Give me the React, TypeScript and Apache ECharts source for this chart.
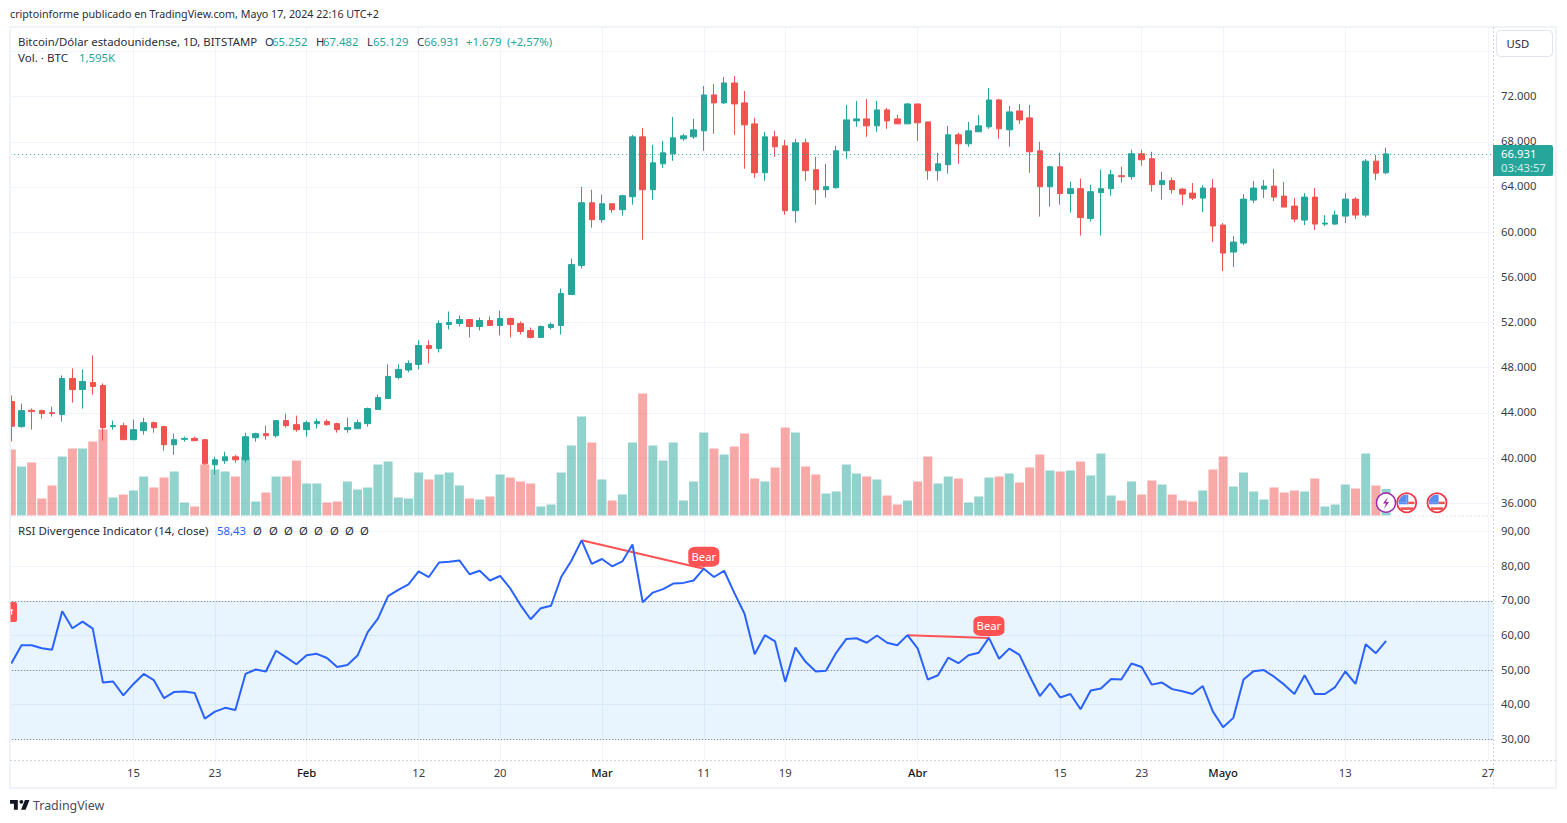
import React, { useEffect, useRef } from "react";
import * as echarts from "echarts";

const opens = [45008,42785,44237,44207,44030,43852,47052,46074,46696,46430,
42785,42874,41630,42430,43141,42785,41185,41659,41748,41630,
39407,39763,40119,39852,41807,42163,41985,43319,42963,42519,
43052,43230,43052,42519,42607,43052,44296,45274,47141,47800,
48295,49973,49708,51829,51917,52270,51652,52182,51740,52359,
51917,51298,50680,51563,51740,54479,57041,62607,61105,62519,
61989,63137,68438,63756,66053,66936,68262,68438,68968,72149,
71442,73209,71442,69587,65258,68438,67643,61900,67911,65529,
63764,63941,67205,69852,70029,69411,70823,70029,69588,71352,
69764,65441,65970,68617,67823,68882,69323,71705,69058,70735,
70117,67205,64029,65794,63412,63853,61206,63500,63853,65000,
64912,66941,66500,64206,64559,63812,63458,63016,63901,60628,
58240,59036,62839,63812,64077,63193,62309,61071,63105,60717,
60717,61424,62928,61513,66289,65252];
const closes = [42815,44207,44119,43941,43941,47052,46074,46785,46341,42696,
42874,41630,42519,43141,42696,41185,41630,41748,41541,39496,
39852,40119,39852,41896,42163,41985,43319,42874,42519,43141,
43230,42963,42519,42696,43141,44385,45363,47230,47852,48383,
49973,49708,51917,52005,52270,51652,52182,51740,52359,51829,
51210,50680,51652,51829,54567,57130,62607,61105,62519,61989,
63226,68438,63756,66141,67025,68350,68527,69057,72149,71442,
73209,71354,69499,65258,68438,67555,61900,67908,65441,63764,
64029,67205,69941,70029,69411,70823,69852,69588,71352,69676,
65441,66058,68617,67823,68970,69411,71705,69147,70646,69941,
67117,64029,65794,63412,63853,61294,63588,63853,65088,64912,
66941,66412,64206,64559,63764,63370,63016,63901,60540,58152,
59125,62928,63901,64077,63105,62220,61159,63105,60717,60805,
61513,62928,61513,66289,65227,66931];
const lows = [41482,42696,42519,43496,43674,43230,44919,44385,45630,41541,
42519,41630,41630,42074,42252,40652,40296,41452,41541,39407,
38519,39496,39585,39600,41452,41630,41807,42696,42341,41896,
42607,42874,42252,42252,42607,42785,44296,45274,46963,47600,
47853,48383,49355,51387,51652,50680,51298,51740,50857,50680,
50945,50592,50680,51387,50945,54479,56776,60398,60840,61724,
61459,62431,59338,62872,65699,66318,68085,68262,67201,68703,
71354,68615,65611,64816,64551,66671,61547,60840,64559,62441,
63059,63853,66500,69323,68441,68882,69147,69588,69588,68088,
64647,64559,65176,66058,67558,68882,69147,68264,67558,69588,
65264,61382,62265,62441,61735,59706,60941,59706,63235,64382,
64647,65882,63588,62882,63412,62397,62839,61778,59125,56560,
56914,58860,62574,63016,62751,62220,60894,60628,60186,60540,
60628,60805,61159,61336,64608,65129];
const highs = [45541,44830,44385,44296,44563,47319,47941,47852,49096,46608,
43319,43141,43408,43585,43230,42874,42163,41896,41896,41689,
40119,40563,40296,42252,42252,42874,43319,43941,43763,43319,
43496,43408,43141,43585,43408,44474,45630,48296,48296,48648,
50415,50415,52182,52977,52624,52270,52447,52535,53065,52447,
52094,51563,51740,52005,55009,57660,64021,63756,63314,62519,
63314,68615,69233,67732,68085,70205,68703,70029,72944,73121,
73739,73827,72502,70117,68880,68968,68173,68262,68264,66676,
66058,67647,71264,71617,71794,71617,70999,70382,71441,71352,
69764,67029,69411,68794,69764,70382,72764,71794,71176,71352,
71264,68000,65882,67029,64470,64735,64206,65529,65529,65794,
67294,67294,67117,65353,64824,63901,64343,64166,64697,60805,
59656,63370,64520,64608,65581,64431,63016,63458,63901,61513,
61867,63458,63105,66465,66819,67482];
const volumes = [3960,2940,3180,1020,1800,3540,4020,4020,4440,5160,
1080,1260,1500,2340,1680,2280,2640,780,540,3060,
2760,2640,2340,3540,840,1380,2340,2340,3300,1920,
1920,780,840,2040,1560,1680,3060,3240,1080,1020,
2580,2160,2460,2580,1800,1020,960,1140,2460,2280,
2040,1920,540,660,2580,4200,5940,4380,2160,900,
1260,4380,7320,4200,3300,4380,900,2040,4980,4020,
3660,4140,4920,2220,2040,2880,5280,4980,2940,2460,
1320,1440,3060,2520,2340,2160,1200,660,900,2040,
3540,1920,2340,2220,780,1140,2280,2340,2520,1980,
2880,3660,2700,2640,2700,3240,2400,3720,1200,900,
2040,1260,2100,1860,1260,900,840,1500,2760,3540,
1740,2580,1440,960,1680,1380,1500,1440,2220,540,
660,1860,1620,3720,1800,1595];
const rsi = [51.9,57.2,57.2,56.3,55.9,67,62.1,64,62,46.4,
46.7,42.7,46,48.9,47.1,41.9,43.7,43.8,43.4,36,
38,39.1,38.5,48.9,50.2,49.6,55.6,53.7,51.7,54.3,
54.7,53.5,50.9,51.5,54.2,61,64.9,71.4,73.2,74.8,
78.5,76.9,81.1,81.3,81.7,77.7,78.7,75.9,77.2,73.6,
68.8,64.7,67.9,68.6,76.9,81.6,87.5,80.7,82.1,80,
81.4,86.3,69.6,72.4,73.4,75,75.2,75.9,79.3,76.9,
78.7,72.3,66.3,54.6,60.1,58.3,46.6,56.5,52.4,49.6,
49.8,55,59,59.2,57.9,60,57.9,57.2,60.1,56.3,
47.3,48.5,53.6,52,54.3,55,59.3,53.3,56.2,54.4,
48.3,42.5,46.2,42.1,43.1,38.7,44.1,44.7,47.4,47.3,
51.9,50.9,45.8,46.4,44.5,43.9,43.1,45.4,38,33.5,
36.2,47.3,49.7,50,48.1,45.8,43.1,48.5,43.1,43.1,
45.1,49.6,46,57.5,54.9,58.43];

const firstDay = "2024-01-03";
const barCount = 146;
const tickDates = ["2024-01-15","2024-01-23","2024-02-01","2024-02-12","2024-02-20","2024-03-01","2024-03-11","2024-03-19","2024-04-01","2024-04-15","2024-04-23","2024-05-01","2024-05-13","2024-05-27"];
const tickTexts = ["15","23","Feb","12","20","Mar","11","19","Abr","15","23","Mayo","13","27"];
const monthTicks = ["Feb","Mar","Abr","Mayo"];
const priceTicks = [36000,40000,44000,48000,52000,56000,60000,64000,68000,72000];
const priceGrid = [...priceTicks, 76000];
const rsiTicks = [30,40,50,60,70,80,90];
const rsiBands = [70,50,30];
const bearLines = [[[56,87.5],[68,79.3]],[[88,60.1],[96,59.3]]];
const bearMarks = [[68,79.3],[96,59.3]];

const categories: string[] = [];
{
  const d = new Date(firstDay + "T00:00:00Z");
  for (let i = 0; i < barCount; i++) {
    categories.push(d.toISOString().slice(0, 10));
    d.setUTCDate(d.getUTCDate() + 1);
  }
}

const UP = "#26a69a", DOWN = "#ef5350", BLUE = "#2962ff", RED = "#ff5252", INK = "#2a2e39", GRID = "#f0f3fa";
const FONT = '"Noto Sans", sans-serif';
const FS = 11.3;

function txt(text: string, x: number, y: number, fill = INK, size = FS) {
  return { type: "text", x, y, z: 110, silent: true, style: { text, fill, font: `${size}px ${FONT}`, textVerticalAlign: "middle" } };
}
function flag(cx: number, cy: number) {
  return [
    { type: "circle", z: 105, shape: { cx, cy, r: 9.5 }, style: { fill: "#fff", stroke: "#f23645", lineWidth: 1.8 } },
    { type: "sector", z: 106, shape: { cx, cy, r: 8.2, r0: 0, startAngle: Math.PI, endAngle: Math.PI * 1.5 }, style: { fill: "#5b8def" } },
    { type: "rect", z: 106, shape: { x: cx, y: cy - 8, width: 1.6, height: 9.6 }, style: { fill: "#5b8def" } },
    { type: "rect", z: 106, shape: { x: cx - 8, y: cy, width: 8, height: 1.6 }, style: { fill: "#5b8def" } },
    { type: "rect", z: 106, shape: { x: cx + 1.6, y: cy - 1, width: 6.2, height: 2.4 }, style: { fill: "#ef5350" } },
    { type: "rect", z: 106, shape: { x: cx - 6.3, y: cy + 4.6, width: 12.6, height: 2.6 }, style: { fill: "#ef5350" } },
  ];
}

echarts.graphic.registerShape("tvlogo", echarts.graphic.extendPath(
  "M14 6H2v6h6v9h6V6Zm12 15h-7l6-15h7l-6 15ZM22.5 9a3 3 0 1 1-6 0 3 3 0 0 1 6 0Z",
  {}
) as any);

export default function App() {
  const ref = useRef<HTMLDivElement>(null);
  useEffect(() => {
    const chart = echarts.init(ref.current!, undefined, { renderer: "svg" });
    const ticks = (i: number) => tickDates.includes(categories[i]);
    const labelOf = (v: string) => tickTexts[tickDates.indexOf(v)];
    const tick = { a: { padding: [0, 0, 2, 0], color: "#3a3d47", fontFamily: FONT, fontSize: FS } };
    const axisX = (gridIndex: number, withLabels: boolean) => ({
      type: "category", gridIndex, data: categories,
      axisLine: { show: false },
      axisTick: { show: false, alignWithLabel: true, interval: (i: number) => ticks(i) },
      splitLine: { show: true, alignWithLabel: true, interval: (i: number) => ticks(i), lineStyle: { color: GRID, width: 1 } },
      axisLabel: withLabels ? {
        show: true, margin: 7, interval: (i: number) => ticks(i),
        fontFamily: FONT, fontSize: FS, color: "#3a3d47",
        formatter: (v: string) => {
          const t = labelOf(v);
          return monthTicks.includes(t) ? `{m|${t}}` : t;
        },
        rich: { m: { color: "#131722", fontFamily: FONT, fontSize: FS, fontWeight: 500 } },
      } : { show: false },
    });
    chart.setOption({
      animation: false,
      backgroundColor: "#fff",
      grid: [
        { left: 6.2, width: 1486.8, top: 28, height: 487.5 },
        { left: 6.2, width: 1486.8, top: 517, height: 243.3 },
      ],
      xAxis: [axisX(0, false), axisX(1, true)],
      yAxis: [
        {
          type: "value", gridIndex: 0, position: "right", min: 34920, max: 78074, scale: true,
          axisLine: { show: false },
          axisTick: { show: false, customValues: priceGrid },
          splitLine: { show: true, lineStyle: { color: GRID, width: 1 } },
          axisLabel: {
            customValues: priceTicks, margin: 8, rich: tick,
            formatter: (v: number) => `{a|${v / 1000}.000}`,
          },
        },
        { type: "value", gridIndex: 0, min: 0, max: 29250, show: false, splitLine: { show: false } },
        {
          type: "value", gridIndex: 1, position: "right", min: 23.94, max: 94.24, scale: true,
          axisLine: { show: false },
          axisTick: { show: false, customValues: rsiTicks },
          splitLine: { show: true, lineStyle: { color: GRID, width: 1 } },
          axisLabel: {
            customValues: rsiTicks, margin: 8, rich: tick,
            formatter: (v: number) => `{a|${v},00}`,
          },
        },
      ],
      series: [
        {
          name: "Vol", type: "bar", xAxisIndex: 0, yAxisIndex: 1, barWidth: 9, z: 2,
          data: volumes.map((v, i) => ({
            value: v,
            itemStyle: { color: closes[i] >= opens[i] ? "rgba(38,166,154,0.5)" : "rgba(239,83,80,0.5)" },
          })),
        },
        {
          name: "BTC", type: "candlestick", xAxisIndex: 0, yAxisIndex: 0, barWidth: 6, z: 3,
          itemStyle: { color: UP, color0: DOWN, borderColor: UP, borderColor0: DOWN, borderWidth: 1 },
          data: opens.map((o, i) => [o, closes[i], lows[i], highs[i]]),
          markLine: {
            silent: true, symbol: ["none", "none"], label: { show: false }, animation: false,
            lineStyle: { color: UP, type: [1, 3], width: 1 },
            data: [{ yAxis: closes[closes.length - 1] }],
          },
        },
        {
          name: "RSI", type: "line", xAxisIndex: 1, yAxisIndex: 2, data: rsi, showSymbol: false, symbol: "none", z: 5,
          lineStyle: { color: BLUE, width: 2 },
          markArea: {
            silent: true, itemStyle: { color: "rgba(33,150,243,0.1)" },
            data: [[{ yAxis: rsiBands[0] }, { yAxis: rsiBands[2] }]],
          },
          markLine: {
            silent: true, symbol: ["none", "none"], label: { show: false },
            data: [
              ...rsiBands.map((y) => ({ yAxis: y, lineStyle: { color: "#787b86", type: [1, 2], width: 1 } })),
              ...bearLines.map((l) => [
                { coord: l[0], lineStyle: { color: RED, type: "solid", width: 2 } },
                { coord: l[1] },
              ]),
            ],
          },
          markPoint: {
            silent: true,
            data: bearMarks.flatMap((c) => [
              {
                coord: c, symbol: "triangle", symbolRotate: 180, symbolSize: [7, 4], symbolOffset: [0, -3],
                itemStyle: { color: RED }, label: { show: false },
              },
              {
                coord: c, value: "Bear", symbol: "roundRect", symbolSize: [31, 20], symbolOffset: [0, -12],
                itemStyle: { color: RED },
                label: { show: true, formatter: "Bear", position: "inside", color: "#fff", fontFamily: FONT, fontSize: FS },
              },
            ]),
          },
        },
      ],
      graphic: {
        z: 100,
        elements: [
          // page margins around the chart frame
          { type: "rect", z: 100, silent: true, shape: { x: 0, y: 0, width: 9.5, height: 823 }, style: { fill: "#fff" } },
          { type: "rect", z: 101, silent: true, shape: { x: 10, y: 27, width: 1546, height: 761 }, style: { fill: "none", stroke: "#f0f3fa", lineWidth: 2 } },
          { type: "line", z: 101, silent: true, shape: { x1: 1493.5, y1: 27, x2: 1493.5, y2: 788 }, style: { stroke: "#d1d4dc", lineWidth: 1, lineDash: [2, 2] } },
          { type: "line", z: 101, silent: true, shape: { x1: 10, y1: 516, x2: 1493, y2: 516 }, style: { stroke: "#dfe2ea", lineWidth: 1, lineDash: [2, 2] } },
          { type: "line", z: 101, silent: true, shape: { x1: 10, y1: 760.5, x2: 1556, y2: 760.5 }, style: { stroke: "#d1d4dc", lineWidth: 1, lineDash: [2, 2] } },
          // clipped Bear tag at the left edge
          { type: "rect", z: 102, silent: true, shape: { x: 10.5, y: 602, width: 6.5, height: 20, r: [0, 2, 2, 0] }, style: { fill: RED } },
          { type: "rect", z: 103, silent: true, shape: { x: 10.5, y: 609.5, width: 2.5, height: 1.2 }, style: { fill: "#fff" } },
          { type: "rect", z: 103, silent: true, shape: { x: 11, y: 609.5, width: 1.2, height: 5 }, style: { fill: "#fff" } },
          // header
          txt("criptoinforme publicado en TradingView.com, Mayo 17, 2024 22:16 UTC+2", 10, 14, INK, 10.7),
          txt("Bitcoin/Dólar estadounidense, 1D, BITSTAMP", 18, 41.3, INK, 11.4),
          txt("O", 265, 41.3), txt("65.252", 272, 41.3, UP),
          txt("H", 316, 41.3), txt("67.482", 323, 41.3, UP),
          txt("L", 367, 41.3), txt("65.129", 373, 41.3, UP),
          txt("C", 417, 41.3), txt("66.931", 424, 41.3, UP),
          txt("+1.679", 466, 41.3, UP), txt("(+2,57%)", 507, 41.3, UP),
          txt("Vol. · BTC", 18, 57.8, INK, 11.6), txt("1,595K", 79, 57.8, UP, 11.4),
          // RSI legend
          txt("RSI Divergence Indicator (14, close)", 18, 530.3, INK, 11.55),
          txt("58,43", 217, 530.3, BLUE),
          ...[253, 269, 284, 299, 314, 330, 345, 360].map((x) => txt("Ø", x, 530.3)),
          // price tag and currency button
          { type: "rect", z: 105, silent: true, shape: { x: 1493, y: 145, width: 60, height: 31, r: [0, 2, 2, 0] }, style: { fill: UP } },
          txt("66.931", 1501, 153.2, "#ffffff"),
          txt("03:43:57", 1501, 167, "rgba(255,255,255,0.8)"),
          { type: "rect", z: 105, silent: true, shape: { x: 1496.5, y: 30.5, width: 56, height: 26, r: 4 }, style: { fill: "#fff", stroke: "#e0e3eb", lineWidth: 1 } },
          txt("USD", 1506.5, 43.5),
          // events
          { type: "circle", z: 105, silent: true, shape: { cx: 1386, cy: 502.7, r: 9.5 }, style: { fill: "#fff", stroke: "#9c27b0", lineWidth: 1.5 } },
          { type: "polygon", z: 106, silent: true, shape: { points: [[1388, 497], [1383, 503.5], [1386, 503.5], [1384, 509], [1389, 502], [1386, 502]] }, style: { fill: "#9c27b0" } },
          ...flag(1406.7, 502.7), ...flag(1437, 502.7),
          // footer
          { type: "tvlogo", z: 110, silent: true, x: 8.7, y: 796, scaleX: 0.65, scaleY: 0.65, style: { fill: "#131722" } },
          txt("TradingView", 33, 805, "#4a4d57", 12.4),
        ],
      },
    });
    return () => chart.dispose();
  }, []);
  return <div ref={ref} style={{ position: "absolute", left: 0, top: 0, width: 1567, height: 823 }} />;
}
